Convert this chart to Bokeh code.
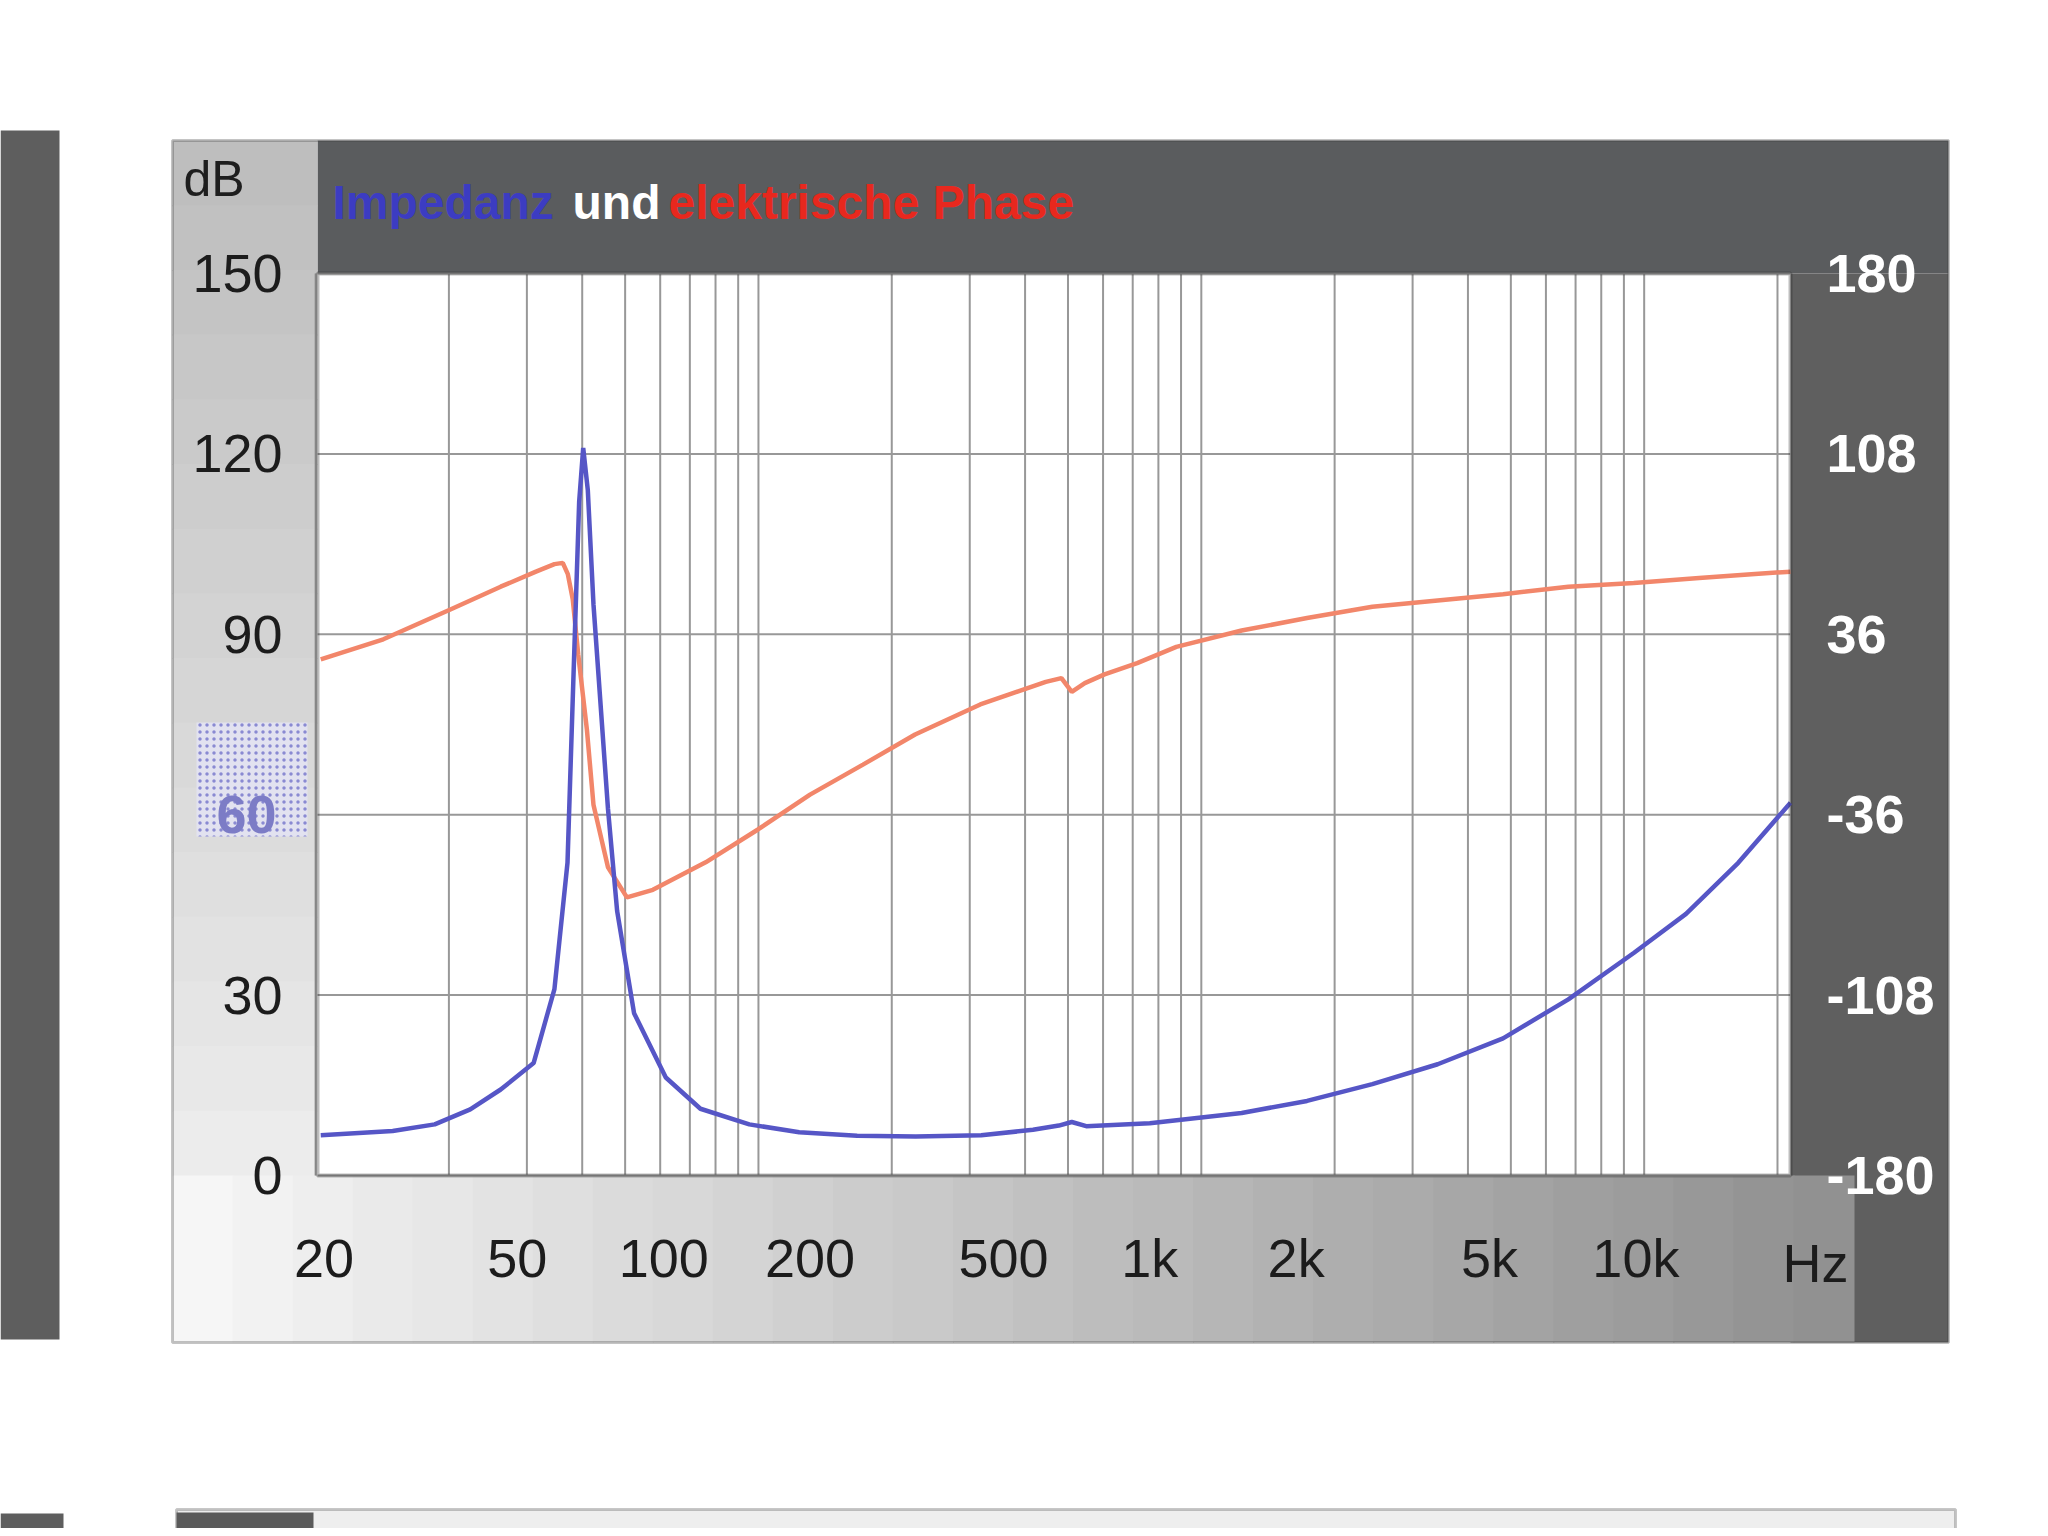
from math import log10
from bokeh.plotting import figure
from bokeh.models import (Range1d, LogScale, LinearAxis, FixedTicker,
                          BoxAnnotation, Label, CustomJSTickFormatter)
from bokeh.embed import file_html
from bokeh.resources import INLINE

# ---------------- data ----------------
# impedance curve (left scale), frequency in Hz as printed on the axis
imp_freq = [19.7, 27.7, 33.8, 40, 46.2, 54.0, 59.6, 63.4, 65.4, 67.0, 68.3, 69.8,
            71.7, 76.8, 80.2, 86.9, 101, 119, 150, 190, 250, 330, 450, 575, 650,
            691, 740, 1000, 1545, 2106, 2870, 3910, 5330, 7262, 9897, 12680,
            16240, 20800]
imp_val = [6.7, 7.4, 8.5, 11, 14.3, 18.7, 31, 52, 86, 112, 121, 114,
           95, 61, 44, 27, 16.3, 11.1, 8.5, 7.2, 6.6, 6.5, 6.7, 7.6, 8.3,
           8.9, 8.2, 8.7, 10.4, 12.4, 15.2, 18.5, 22.8, 29.3, 37, 43.5,
           52, 62]

# electrical phase (right scale, degrees)
phase_freq = [19.7, 26.5, 36.5, 46.2, 54.6, 59.6, 62.0, 63.5, 65.0, 66.7, 69.5,
              71.7, 76.8, 84, 95, 122, 156, 200, 257, 329, 448, 611, 658, 691,
              735, 807, 942, 1134, 1545, 2106, 2870, 3910, 5330, 7262, 9897,
              13490, 17280, 20800]
phase_deg = [26, 34, 46, 55, 61, 64, 64.5, 60, 50, 28, -2,
             -32, -57, -69, -66, -55, -42, -28, -16, -4, 8, 17, 18.5, 13,
             16.5, 20, 24.5, 31, 37.5, 42.5, 47, 49.5, 52, 55, 56.5,
             58.5, 60, 61]

x_ticks = [20, 50, 100, 200, 500, 1000, 2000, 5000, 10000]
left_ticks = [0, 30, 60, 90, 120, 150]
right_ticks = [-180, -108, -36, 36, 108, 180]
# the printed grid uses its own log scale (10 Hz ... 20 kHz)
grid_freqs = [10, 20, 30, 40, 50, 60, 70, 80, 90,
              100, 200, 300, 400, 500, 600, 700, 800, 900,
              1000, 2000, 3000, 4000, 5000, 6000, 7000, 8000, 9000,
              10000, 20000]

title_words = ["Impedanz", "und", "elektrische Phase"]
title_colors = ["#3c3cc2", "#ffffff", "#e8281e"]

FONT = "Liberation Sans"

# ---------------- geometry (page pixels) ----------------
W, H = 2040, 1528
OX, OY = 0, 0
PX_L, PX_R = 317, 1790          # inner plot area
PY_T, PY_B = 273, 1175
X0, X1 = 19.4, 20800            # printed frequency scale at the plot edges
G0, G1 = 10.1, 21400            # frequency scale of the printed grid
Y0, Y1 = 0, 150
P0, P1 = -180, 180


def log_full(a, b):
    k = (log10(b) - log10(a)) / (PX_R - PX_L)
    return 10 ** (log10(a) - (PX_L - OX) * k), 10 ** (log10(b) + (OX + W - PX_R) * k)


def lin_full(a, b):
    k = (b - a) / (PY_B - PY_T)
    return a - (OY + H - PY_B) * k, b + (PY_T - OY) * k


KX = (log10(X1) - log10(X0)) / (PX_R - PX_L)
KY = (Y1 - Y0) / (PY_B - PY_T)


def dx(px):
    return 10 ** (log10(X0) + (px - PX_L) * KX)


def dy(py):
    return Y0 + (PY_B - py) * KY


xs, xe = log_full(X0, X1)
ys, ye = lin_full(Y0, Y1)
p = figure(width=W, height=H, x_axis_type="log",
           x_range=Range1d(xs, xe), y_range=Range1d(ys, ye),
           output_backend="svg", toolbar_location=None, title=None,
           min_border=0, min_border_left=0, min_border_right=0,
           min_border_top=0, min_border_bottom=0,
           background_fill_color="white", border_fill_color="white",
           outline_line_color=None)
p.xgrid.visible = False
p.ygrid.visible = False

gs, ge = log_full(G0, G1)
p.extra_x_ranges = {"grid": Range1d(gs, ge)}
p.extra_x_scales = {"grid": LogScale()}
ps_, pe_ = lin_full(P0, P1)
p.extra_y_ranges = {"phase": Range1d(ps_, pe_)}

# ---------------- panel decoration ----------------


def box(x0, y0, x1, y1, fill, **kw):
    b = BoxAnnotation(left=dx(x0), right=dx(x1), top=dy(y0), bottom=dy(y1),
                      fill_color=fill if fill else "white",
                      fill_alpha=1.0 if fill else 0.0,
                      line_color=kw.pop("line_color", None),
                      level=kw.pop("level", "underlay"), **kw)
    p.add_layout(b)
    return b


# neighbouring page content (scan)
box(0, 130, 59, 1339, "#5e5e5e")
box(176, 1509, 1955, 1540, "#eeeeee", line_color="#444444", line_width=3)
box(176, 1512, 313, 1540, "#5a5a5a")
box(0, 1513, 63, 1540, "#5e5e5e")

# dark title bar and right column
box(PX_L, 140, 1948, PY_T, "#5a5c5e")
box(PX_R, PY_T, 1948, 1342, "#5f5f5f")
# left column: light grey getting lighter towards the bottom
n = 16
for i in range(n):
    y0 = 140 + (PY_B - 140) * i / n
    y1 = 140 + (PY_B - 140) * (i + 1) / n
    g = int(190 + (236 - 190) * i / (n - 1))
    box(172, y0, PX_L, y1 + 1, "#%02x%02x%02x" % (g, g, g))
# bottom band: near white on the left, grey towards the right
n = 28
for i in range(n):
    x0 = 172 + (1853 - 172) * i / n
    x1 = 172 + (1853 - 172) * (i + 1) / n
    g = int(246 - (246 - 145) * i / (n - 1))
    box(x0, PY_B, x1 + 1, 1342, "#%02x%02x%02x" % (g, g, g))
# outer frame
box(172, 140, 1948, 1342, None, line_color="#3a3a3a", line_width=3)
# dotted patch behind the "60" label
box(196, 722, 307, 836, "#e2e2f0", hatch_pattern="dot", hatch_color="#8a8ad2",
    hatch_scale=7, hatch_weight=2)

# ---------------- grid ----------------
p.segment(x0=grid_freqs, y0=Y0, x1=grid_freqs, y1=Y1, x_range_name="grid",
          line_color="#989898", line_width=2)
p.segment(x0=X0, y0=left_ticks, x1=X1, y1=left_ticks,
          line_color="#989898", line_width=2)
# plot border
box(PX_L, PY_T, PX_R, PY_B, None, line_color="#262626", line_width=4,
    level="annotation")

# ---------------- curves ----------------
p.line(phase_freq, phase_deg, y_range_name="phase", line_color="#f2866a",
       line_width=4.5)
p.line(imp_freq, imp_val, line_color="#5656c6", line_width=4.5)

# ---------------- axes ----------------
plain = CustomJSTickFormatter(code="return tick.toString();")

axl = p.left[0]
axl.ticker = FixedTicker(ticks=left_ticks)
axl.formatter = plain
axl.major_label_overrides = {60: ""}
axl.major_label_standoff = 35
axl.fixed_location = X0

axb = p.below[0]
axb.ticker = FixedTicker(ticks=x_ticks)
axb.formatter = CustomJSTickFormatter(
    code="return tick >= 1000 ? (tick / 1000) + 'k' : tick.toString();")
axb.major_label_standoff = 52
axb.fixed_location = Y0

axr = LinearAxis(y_range_name="phase", ticker=FixedTicker(ticks=right_ticks),
                 formatter=CustomJSTickFormatter(code="return tick.toString();"))
p.add_layout(axr, "right")
axr.major_label_standoff = 36
axr.fixed_location = X1

for ax in (axl, axb, axr):
    ax.axis_line_color = None
    ax.major_tick_line_color = None
    ax.minor_tick_line_color = None
    ax.major_tick_out = 0
    ax.major_tick_in = 0
    ax.minor_tick_out = 0
    ax.major_label_text_font = FONT
    ax.major_label_text_font_size = "54px"
    ax.major_label_text_color = "#1c1c1c"
axr.major_label_text_color = "white"
axr.major_label_text_font_style = "bold"

# ---------------- texts ----------------
title_x = [332, 572, 668]
for word, col, x in zip(title_words, title_colors, title_x):
    p.add_layout(Label(x=dx(x), y=dy(202), text=word, text_color=col,
                       text_font=FONT, text_font_size="48px",
                       text_font_style="bold", text_baseline="middle",
                       text_align="left"))

p.add_layout(Label(x=dx(183), y=dy(178), text="dB", text_color="#1e1e1e",
                   text_font=FONT, text_font_size="50px",
                   text_baseline="middle"))
p.add_layout(Label(x=dx(1782), y=dy(1262), text="Hz", text_color="#1c1c1c",
                   text_font=FONT, text_font_size="54px",
                   text_baseline="middle"))
p.add_layout(Label(x=dx(PX_L - 41), y=60, text="60", text_color="#7c7cc6",
                   text_font=FONT, text_font_size="54px",
                   text_font_style="bold", text_align="right",
                   text_baseline="middle"))

open("out.html", "w").write(file_html(p, INLINE))
